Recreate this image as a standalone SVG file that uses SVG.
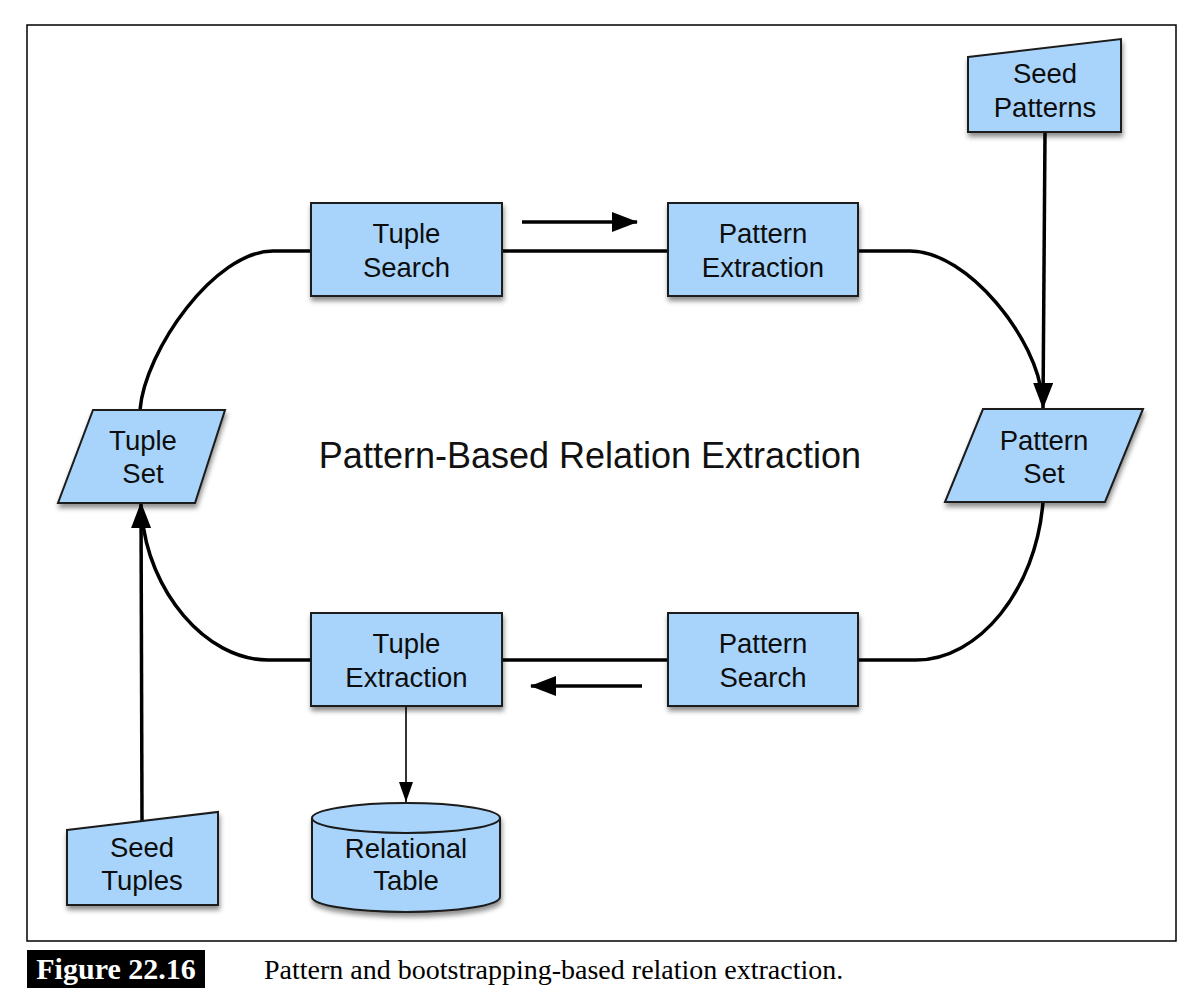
<svg xmlns="http://www.w3.org/2000/svg" width="1194" height="1000" viewBox="0 0 1194 1000">
<style>
.node{fill:#a8d4fb;stroke:#1a1a1a;stroke-width:2;filter:url(#sh)}
.lbl{font-family:"Liberation Sans",Arial,sans-serif;font-size:27.5px;fill:#0d0d0d;text-anchor:middle}
.edge{fill:none;stroke:#000;stroke-width:3.5}
.thin{fill:none;stroke:#000;stroke-width:1.6}
</style>
<defs>
<filter id="sh" x="-10%" y="-10%" width="130%" height="140%">
<feDropShadow dx="1" dy="4" stdDeviation="2.5" flood-color="#000" flood-opacity="0.45"/>
</filter>
<marker id="ah" markerUnits="userSpaceOnUse" markerWidth="26" markerHeight="20" refX="25" refY="10" orient="auto">
<path d="M0,0 L26,10 L0,20 z" fill="#000"/>
</marker>
<marker id="ahs" markerUnits="userSpaceOnUse" markerWidth="20" markerHeight="14" refX="20" refY="7" orient="auto">
<path d="M0,0 L20,7 L0,14 z" fill="#000"/>
</marker>
</defs>
<rect x="0" y="0" width="1194" height="1000" fill="#fff"/>
<rect x="27" y="25" width="1149" height="916" fill="none" stroke="#000" stroke-width="1.5"/>

<g id="connectors">
<path class="edge" d="M311,251 L273,251 C215,251 145,350 140,410"/>
<path class="edge" d="M502,251 L668,251"/>
<path class="edge" d="M858,251 L910,251 C968,251 1038,340 1042,398"/>
<path class="edge" d="M1043,502 C1036,590 979,660 916,660 L858,660"/>
<path class="edge" d="M668,660 L502,660"/>
<path class="edge" d="M311,660 L268,660 C205,660 148,590 142,515"/>
<line class="edge" x1="1045" y1="132" x2="1043" y2="408" marker-end="url(#ah)"/>
<line class="edge" x1="142" y1="821" x2="141" y2="503" marker-end="url(#ah)"/>
<line class="edge" x1="522" y1="222" x2="637" y2="222" marker-end="url(#ah)"/>
<line class="edge" x1="642" y1="686" x2="531" y2="686" marker-end="url(#ah)"/>
<line class="thin" x1="406" y1="706" x2="406" y2="802" marker-end="url(#ahs)"/>
</g>

<g id="seed-patterns">
<polygon class="node" points="968,57 1121,39 1121,132 968,132"/>
<text class="lbl" x="1045" y="83">Seed</text>
<text class="lbl" x="1045" y="117">Patterns</text>
</g>
<g id="tuple-search">
<rect class="node" x="311" y="203" width="191" height="93"/>
<text class="lbl" x="406.5" y="243">Tuple</text>
<text class="lbl" x="406.5" y="277">Search</text>
</g>
<g id="pattern-extraction">
<rect class="node" x="668" y="203" width="190" height="93"/>
<text class="lbl" x="763" y="243">Pattern</text>
<text class="lbl" x="763" y="277">Extraction</text>
</g>
<g id="tuple-set">
<polygon class="node" points="93,410 225,410 195,503 58,503"/>
<text class="lbl" x="143" y="450">Tuple</text>
<text class="lbl" x="143" y="483">Set</text>
</g>
<g id="pattern-set">
<polygon class="node" points="983,409 1143,409 1105,502 945,502"/>
<text class="lbl" x="1044" y="450">Pattern</text>
<text class="lbl" x="1044" y="483">Set</text>
</g>
<g id="tuple-extraction">
<rect class="node" x="311" y="613" width="191" height="93"/>
<text class="lbl" x="406.5" y="653">Tuple</text>
<text class="lbl" x="406.5" y="687">Extraction</text>
</g>
<g id="pattern-search">
<rect class="node" x="668" y="613" width="190" height="93"/>
<text class="lbl" x="763" y="653">Pattern</text>
<text class="lbl" x="763" y="687">Search</text>
</g>
<g id="seed-tuples">
<polygon class="node" points="67,830 218,812 218,905 67,905"/>
<text class="lbl" x="142" y="857">Seed</text>
<text class="lbl" x="142" y="890">Tuples</text>
</g>
<g id="relational-table">
<path class="node" d="M312,818 A94,15 0 0 1 500,818 L500,897 A94,15 0 0 1 312,897 Z"/>
<path d="M312,818 A94,15 0 0 0 500,818" fill="none" stroke="#1a1a1a" stroke-width="2"/>
<text class="lbl" x="406" y="858">Relational</text>
<text class="lbl" x="406" y="890">Table</text>
</g>

<text x="590" y="468" font-family="Liberation Sans, Arial, sans-serif" font-size="36" fill="#111" text-anchor="middle">Pattern-Based Relation Extraction</text>

<g id="caption">
<rect x="27" y="950" width="178" height="38" fill="#000"/>
<text x="116" y="979" font-family="Liberation Serif, 'Times New Roman', serif" font-size="30" font-weight="bold" fill="#fff" text-anchor="middle">Figure 22.16</text>
<text x="264" y="979" font-family="Liberation Serif, 'Times New Roman', serif" font-size="28" fill="#000">Pattern and bootstrapping-based relation extraction.</text>
</g>
</svg>
